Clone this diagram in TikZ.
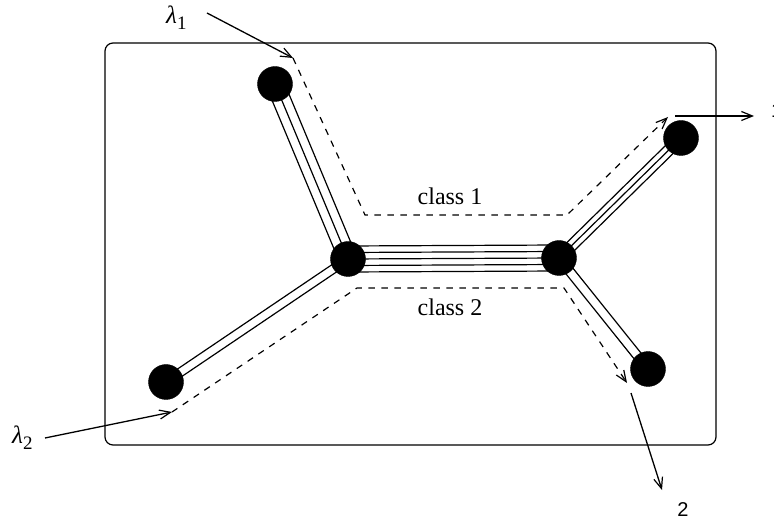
\documentclass[tikz,border=0pt]{standalone}
\usepackage{fontspec}
\setmainfont{Liberation Serif}
\newfontfamily\labsans{Liberation Sans}
\usetikzlibrary{arrows.meta,backgrounds,calc}
\newcommand\lamlab[1]{{\fontsize{25}{28}\selectfont\itshape λ}\raisebox{-6pt}{\fontsize{19}{22}\selectfont #1}}
\begin{document}
\begin{tikzpicture}[x=1pt,y=-1pt,
  dot/.style={circle,fill=black,draw=black,inner sep=0pt,minimum size=35pt},
  wire/.style={line width=1.2pt,line cap=butt},
  route/.style={line width=1.2pt,dash pattern=on 6.5pt off 6.5pt},
  tip/.style={-{Straight Barb[length=11pt,width=9pt,line width=1.2pt]}},
  feed/.style={line width=1.3pt},
  cls/.style={font=\fontsize{24}{28}\selectfont,inner sep=0pt},
  lam/.style={inner sep=0pt},
  num/.style={font=\labsans\fontsize{20}{24}\selectfont,inner sep=0pt}
]
\useasboundingbox (0,0) rectangle (774,526);
\clip (0,0) rectangle (774,526);

% frame
\draw[line width=1.2pt,rounded corners=8pt] (105,43) rectangle (716,445);

% nodes
\node[dot] (A) at (275,84) {};
\node[dot] (B) at (348,259) {};
\node[dot] (C) at (559,258) {};
\node[dot] (D) at (681,138) {};
\node[dot] (E) at (648,369) {};
\node[dot] (F) at (166,382) {};

% links
\begin{scope}[on background layer]
\foreach \k in {-9,0,9}
  \draw[wire] ($(A.center)!\k pt!90:(B.center)$) -- ($(B.center)!\k pt!-90:(A.center)$);
\foreach \k in {-13,-6.5,0,6.5,13}
  \draw[wire] ($(B.center)!\k pt!90:(C.center)$) -- ($(C.center)!\k pt!-90:(B.center)$);
\foreach \k in {-5.5,0,5.5}
  \draw[wire] ($(C.center)!\k pt!90:(D.center)$) -- ($(D.center)!\k pt!-90:(C.center)$);
\foreach \k in {-4.5,4.5}
  \draw[wire] ($(C.center)!\k pt!90:(E.center)$) -- ($(E.center)!\k pt!-90:(C.center)$);
\foreach \k in {-4.3,4.3}
  \draw[wire] ($(B.center)!\k pt!90:(F.center)$) -- ($(F.center)!\k pt!-90:(B.center)$);
\end{scope}

% class routes
\coordinate (r1s) at (293,58);
\coordinate (r1a) at (365,215);
\coordinate (r1b) at (567,215);
\coordinate (r1e) at (668,117);
\coordinate (r2s) at (172,412);
\coordinate (r2a) at (357,288);
\coordinate (r2b) at (564,288);
\coordinate (r2e) at (627,383);
\draw[route,tip] (r1s) -- (r1a) -- (r1b) -- (r1e);
\draw[route,tip] (r2s) -- (r2a) -- (r2b) -- (r2e);

\node[cls] (c1) at (450,196) {class 1};
\node[cls] (c2) at (450,307) {class 2};

% inputs
\node[lam,anchor=base west] (l1) at (166,24) {\lamlab{1}};
\node[lam,anchor=base west] (l2) at (12,443) {\lamlab{2}};
\coordinate (l1s) at (207,13);
\coordinate (l2s) at (45,438);
\draw[feed,tip] (l1s) -- (r1s);
\draw[feed,tip] (l2s) -- (r2s);

% outputs
\coordinate (o1s) at (675,116);
\coordinate (o1e) at (754,116);
\coordinate (o2s) at (631,393);
\coordinate (o2e) at (662,490);
\draw[feed,tip] (o1s) -- (o1e);
\draw[feed,tip] (o2s) -- (o2e);
\node[num,anchor=base west] (n1) at (771,118) {1};
\node[num] (n2) at (683,510) {2};
\end{tikzpicture}
\end{document}
